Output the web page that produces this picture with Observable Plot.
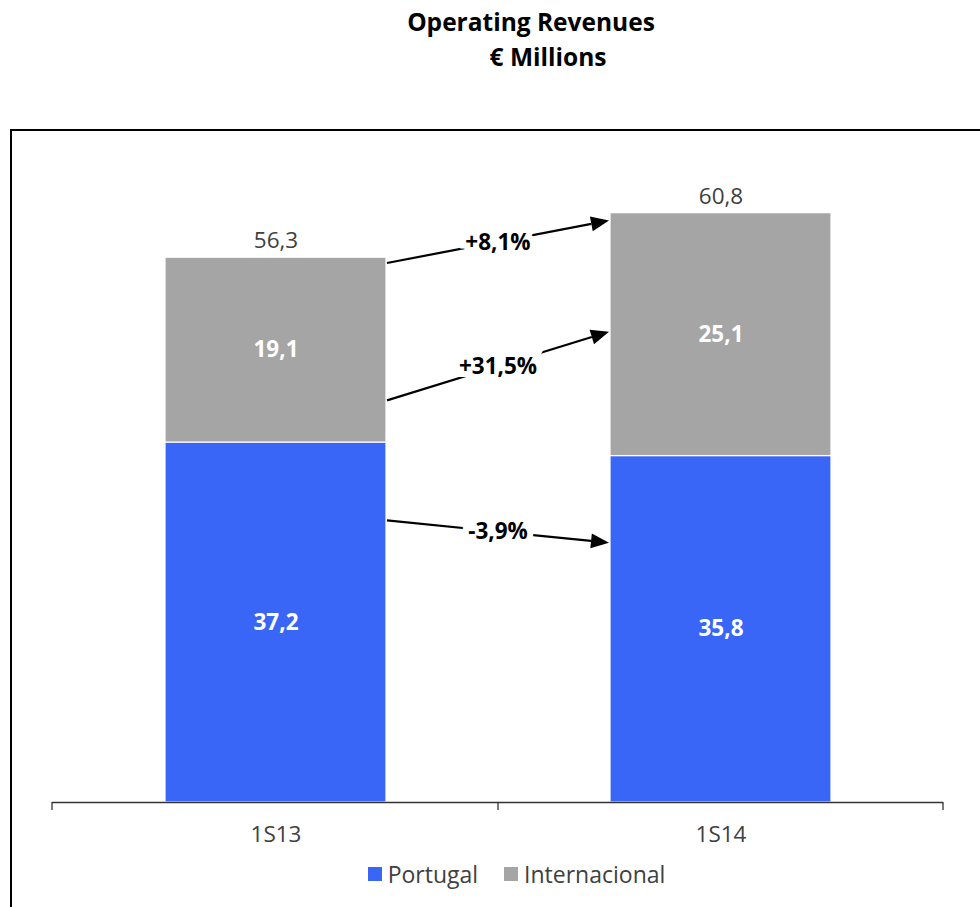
<!DOCTYPE html>
<html>
<head>
<meta charset="utf-8">
<script src="https://cdn.jsdelivr.net/npm/d3@7"></script>
<script src="https://cdn.jsdelivr.net/npm/@observablehq/plot@0.6"></script>
<style>
  html, body { margin: 0; padding: 0; background: #fff; }
  body { width: 980px; height: 907px; overflow: hidden; position: relative; font-family: "Open Sans", sans-serif; }
  .t { position: absolute; font-weight: bold; font-size: 24.5px; color: #000; white-space: nowrap; text-align: center; }
  #frame { position: absolute; left: 10px; top: 129px; width: 1000px; height: 800px; border: 2px solid #000; }
  #chart { position: absolute; left: 0; top: 130px; }
  #legend { position: absolute; left: 0; top: 858px; width: 1033px; display: flex; justify-content: center; align-items: center; font-size: 23px; color: #404040; }
  .sw { display: inline-block; width: 14px; height: 14px; margin-right: 6px; }
  .item { display: inline-flex; align-items: center; margin: 0 13px; }
</style>
</head>
<body>
<div class="t" style="left:331px;width:400px;top:5px;">Operating Revenues</div>
<div class="t" style="left:348px;width:400px;top:40px;">€ Millions</div>
<div id="frame"></div>
<div id="chart"></div>
<div id="legend"></div>
<script>
// ---- data ----
const categories = ["1S13", "1S14"];
const seriesNames = ["Portugal", "Internacional"];
const seriesColors = ["#3A66F8", "#A5A5A5"];
const portugal = [37.2, 35.8];
const internacional = [19.1, 25.1];
const totals = [56.3, 60.8];
const arrowLabels = ["+8,1%", "+31,5%", "-3,9%"];
const arrowFrom = [55.7, 41.5, 29.1];
const arrowTo = [60.1, 48.6, 26.8];

const fmt = v => v.toFixed(1).replace(".", ",");

const rows = [];
categories.forEach((c, i) => {
  rows.push({period: c, series: seriesNames[0], value: portugal[i]});
  rows.push({period: c, series: seriesNames[1], value: internacional[i]});
});
const totalRows = categories.map((c, i) => ({period: c, total: totals[i]}));

function bwOf(sx) { return typeof sx.bandwidth === "function" ? sx.bandwidth() : sx.bandwidth; }

// axis tick marks at band boundaries
function boundaryTicks(index, scales, values, dims) {
  const sx = scales.x, sy = scales.y, bw = bwOf(sx);
  const y0 = sy(0);
  const mid = (sx(categories[0]) + bw + sx(categories[1])) / 2;
  const xs = [dims.marginLeft, mid, dims.width - dims.marginRight];
  const g = d3.create("svg:g").attr("stroke", "#333").attr("stroke-width", 1.3);
  xs.forEach(x => g.append("line").attr("x1", x).attr("x2", x).attr("y1", y0).attr("y2", y0 + 8));
  return g.node();
}

// change arrows between the two bars
function changeArrows(index, scales, values, dims) {
  const sx = scales.x, sy = scales.y, bw = bwOf(sx);
  const xs = sx(categories[0]) + bw + 1;
  const xe = sx(categories[1]) - 1;
  const g = d3.create("svg:g");
  arrowLabels.forEach((lab, i) => {
    const y1 = sy(arrowFrom[i]), y2 = sy(arrowTo[i]);
    const a = Math.atan2(y2 - y1, xe - xs);
    const hl = 18, hw = 7.5;
    const bx = xe - hl * Math.cos(a), by = y2 - hl * Math.sin(a);
    g.append("line").attr("x1", xs).attr("y1", y1).attr("x2", bx).attr("y2", by)
      .attr("stroke", "#000").attr("stroke-width", 2.2);
    g.append("polygon")
      .attr("points", [[xe, y2], [bx + hw * Math.sin(a), by - hw * Math.cos(a)], [bx - hw * Math.sin(a), by + hw * Math.cos(a)]].map(p => p.join(",")).join(" "))
      .attr("fill", "#000");
    g.append("text").attr("x", (xs + xe) / 2).attr("y", (y1 + y2) / 2).attr("dy", "0.35em")
      .attr("text-anchor", "middle").attr("font-weight", "bold").attr("font-size", 22.5)
      .attr("font-family", "Open Sans, sans-serif")
      .attr("stroke", "#fff").attr("stroke-width", 12).attr("paint-order", "stroke")
      .attr("fill", "#000").text(lab);
  });
  return g.node();
}

const chart = Plot.plot({
  width: 980,
  height: 730,
  marginLeft: 52,
  marginRight: 37,
  marginTop: 43,
  marginBottom: 58,
  style: {fontFamily: "Open Sans, sans-serif", background: "transparent"},
  x: {domain: categories, paddingInner: 0.504, paddingOuter: 0.252, label: null},
  y: {domain: [0, 65], axis: null},
  color: {domain: seriesNames, range: seriesColors},
  marks: [
    Plot.barY(rows, Plot.stackY({x: "period", y: "value", fill: "series", stroke: "#fff", strokeWidth: 1.2})),
    Plot.text(rows, Plot.stackY({x: "period", y: "value", text: d => fmt(d.value), fill: "#fff", fontWeight: "bold", fontSize: 22.5})),
    Plot.text(totalRows, {x: "period", y: "total", text: d => fmt(d.total), dy: -17, fill: "#404040", fontSize: 22.5}),
    Plot.ruleY([0], {stroke: "#333", strokeWidth: 1.3}),
    boundaryTicks,
    changeArrows,
    Plot.axisX({tickSize: 0, tickPadding: 24, fontSize: 22.5, fill: "#404040", label: null})
  ]
});
document.getElementById("chart").appendChild(chart);

const legend = document.getElementById("legend");
seriesNames.forEach((s, i) => {
  const item = document.createElement("span");
  item.className = "item";
  const sw = document.createElement("span");
  sw.className = "sw";
  sw.style.background = seriesColors[i];
  item.appendChild(sw);
  item.appendChild(document.createTextNode(s));
  legend.appendChild(item);
});
</script>
</body>
</html>
